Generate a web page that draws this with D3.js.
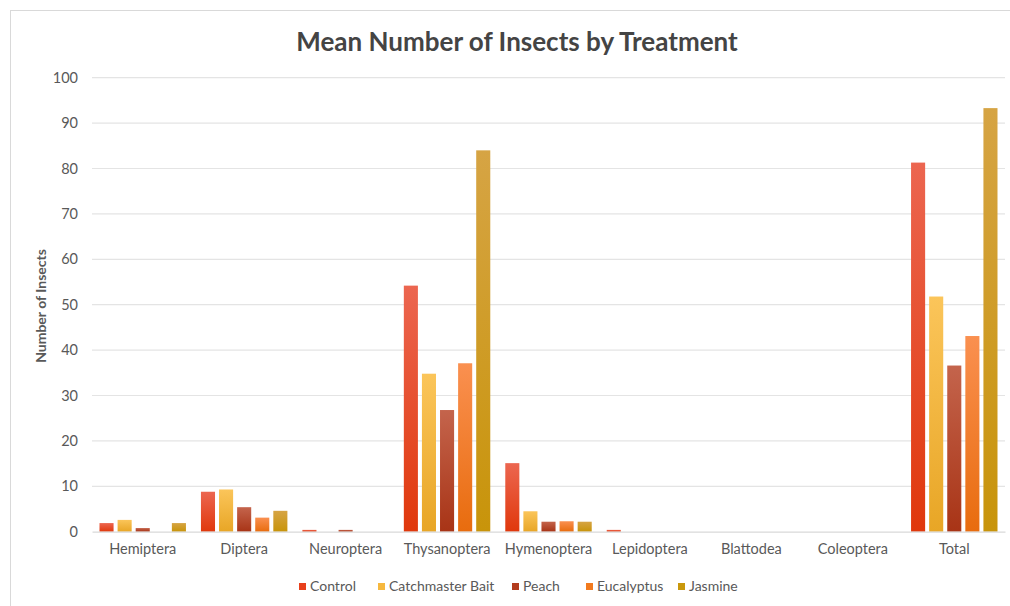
<!DOCTYPE html>
<html>
<head>
<meta charset="utf-8">
<script src="https://cdn.jsdelivr.net/npm/d3@7"></script>
<style>
  body { margin: 0; background: #fff; }
  svg { display: block; font-family: Lato, "Open Sans", sans-serif; }
</style>
</head>
<body>
<div id="chart"></div>
<script>
// data
const categories = ["Hemiptera", "Diptera", "Neuroptera", "Thysanoptera", "Hymenoptera", "Lepidoptera", "Blattodea", "Coleoptera", "Total"];
const seriesNames = ["Control", "Catchmaster Bait", "Peach", "Eucalyptus", "Jasmine"];
const control     = [1.9, 8.8, 0.4, 54.2, 15.1, 0.4, 0, 0, 81.3];
const catchmaster = [2.6, 9.3, 0,   34.8, 4.5,  0,   0, 0, 51.8];
const peach       = [0.8, 5.4, 0.4, 26.8, 2.2,  0,   0, 0, 36.6];
const eucalyptus  = [0,   3.1, 0,   37.1, 2.3,  0,   0, 0, 43.1];
const jasmine     = [1.9, 4.6, 0,   84.0, 2.2,  0,   0, 0, 93.3];
const yTicks = [0, 10, 20, 30, 40, 50, 60, 70, 80, 90, 100];

const values = [control, catchmaster, peach, eucalyptus, jasmine];

// colours (legend colour, top of gradient, bottom of gradient)
const colors = [
  { key: "#e8401c", top: "#ec6650", bot: "#e0380c" },
  { key: "#f6b83e", top: "#fbc55a", bot: "#e8a626" },
  { key: "#b33c1e", top: "#c4644c", bot: "#a83416" },
  { key: "#f27a1e", top: "#fa9050", bot: "#e86c0e" },
  { key: "#c9980c", top: "#d6a444", bot: "#c8940a" }
];

const W = 1010, H = 606;
const svg = d3.select("#chart").append("svg").attr("width", W).attr("height", H);

// gradients
const defs = svg.append("defs");
colors.forEach((c, i) => {
  const g = defs.append("linearGradient").attr("id", "grad" + i)
    .attr("x1", 0).attr("y1", 0).attr("x2", 0).attr("y2", 1);
  g.append("stop").attr("offset", "0%").attr("stop-color", c.top);
  g.append("stop").attr("offset", "100%").attr("stop-color", c.bot);
});

// chart frame
svg.append("rect").attr("x", 10.5).attr("y", 10.5).attr("width", 1100).attr("height", 700)
  .attr("fill", "none").attr("stroke", "#d9d9d9");

const plotLeft = 92, plotRight = 1005, plotTop = 77.7, plotBottom = 531.7;

const x0 = d3.scaleBand().domain(categories).range([plotLeft, plotRight]);
const x1 = d3.scaleBand().domain(seriesNames)
  .range([7.5, x0.bandwidth() - 7.5]).paddingInner(0.222).paddingOuter(0);
const y = d3.scaleLinear().domain([0, 100]).range([plotBottom, plotTop]);

// title
svg.append("text").attr("x", 517).attr("y", 51).attr("text-anchor", "middle")
  .attr("font-size", 26).attr("font-weight", "bold").attr("fill", "#444444")
  .text("Mean Number of Insects by Treatment");

// gridlines
svg.append("g").selectAll("line").data(yTicks.filter(d => d > 0)).enter().append("line")
  .attr("x1", plotLeft).attr("x2", plotRight)
  .attr("y1", d => y(d)).attr("y2", d => y(d))
  .attr("stroke", "#e4e4e4").attr("stroke-width", 1.2);

// y axis labels
const yAxis = svg.append("g").attr("transform", `translate(${plotLeft},0)`)
  .call(d3.axisLeft(y).tickValues(yTicks).tickSize(0).tickPadding(14));
yAxis.select(".domain").remove();
yAxis.selectAll("text").attr("font-size", 14.5).attr("fill", "#595959")
  .attr("font-family", "Lato, 'Open Sans', sans-serif");

svg.append("text")
  .attr("transform", "translate(46,306) rotate(-90)")
  .attr("text-anchor", "middle").attr("font-size", 14).attr("font-weight", "bold")
  .attr("fill", "#595959").text("Number of Insects");

// bars
const groups = svg.append("g").selectAll("g").data(categories).enter().append("g")
  .attr("transform", d => `translate(${x0(d)},0)`);

groups.selectAll("rect")
  .data((c, ci) => seriesNames.map((s, si) => ({ s, si, v: values[si][ci] })))
  .enter().append("rect")
  .attr("x", d => x1(d.s))
  .attr("width", x1.bandwidth())
  .attr("y", d => y(d.v))
  .attr("height", d => y(0) - y(d.v))
  .attr("fill", d => `url(#grad${d.si})`);

// x axis
const xAxis = svg.append("g").attr("transform", `translate(0,${plotBottom})`)
  .call(d3.axisBottom(x0).tickSize(0).tickPadding(12));
xAxis.select(".domain").attr("stroke", "#d9d9d9").attr("stroke-width", 1.2);
xAxis.selectAll("text").attr("font-size", 14.5).attr("fill", "#595959")
  .attr("font-family", "Lato, 'Open Sans', sans-serif");

// legend
const legendX = [299, 378, 512, 586, 678];
const legend = svg.append("g").selectAll("g").data(seriesNames).enter().append("g")
  .attr("transform", (d, i) => `translate(${legendX[i]},583)`);
legend.append("rect").attr("width", 7).attr("height", 7).attr("fill", (d, i) => colors[i].key);
legend.append("text").attr("x", 11).attr("y", 8).attr("font-size", 14).attr("fill", "#595959").text(d => d);
</script>
</body>
</html>
